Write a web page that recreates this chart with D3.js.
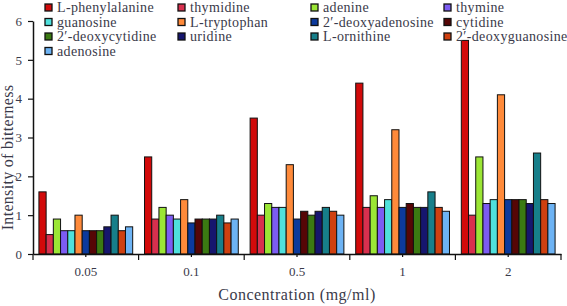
<!DOCTYPE html>
<html>
<head>
<meta charset="utf-8">
<script src="https://cdn.jsdelivr.net/npm/d3@7"></script>
<style>
  body { margin: 0; background: #fff; }
  svg, svg text { font-family: "Liberation Serif", "DejaVu Serif", serif; }
</style>
</head>
<body>
<div id="chart"></div>
<script>
// concentrations (x groups)
const concentrations = ["0.05", "0.1", "0.5", "1", "2"];

// compounds (series), in legend / bar order
const compounds = [
  "L-phenylalanine", "thymidine", "adenine", "thymine",
  "guanosine", "L-tryptophan", "2\u2032-deoxyadenosine", "cytidine",
  "2\u2032-deoxycytidine", "uridine", "L-ornithine", "2\u2032-deoxyguanosine",
  "adenosine"
];

const colors = [
  "#d20a0a", "#d8304e", "#9be635", "#7c5cf2",
  "#4fe0dc", "#ff8a3a", "#0c3a9c", "#560606",
  "#3b7a12", "#16166e", "#177f8a", "#cf4010",
  "#6db3f4"
];

// bitterness intensity per compound, one value per concentration
const lPhenylalanine    = [1.6, 2.5, 3.5, 4.4, 5.5];
const thymidine         = [0.5, 0.9, 1.0, 1.2, 1.0];
const adenine           = [0.9, 1.2, 1.3, 1.5, 2.5];
const thymine           = [0.6, 1.0, 1.2, 1.2, 1.3];
const guanosine         = [0.6, 0.9, 1.2, 1.4, 1.4];
const lTryptophan       = [1.0, 1.4, 2.3, 3.2, 4.1];
const deoxyadenosine    = [0.6, 0.8, 0.9, 1.2, 1.4];
const cytidine          = [0.6, 0.9, 1.1, 1.3, 1.4];
const deoxycytidine     = [0.6, 0.9, 1.0, 1.2, 1.4];
const uridine           = [0.7, 0.9, 1.1, 1.2, 1.3];
const lOrnithine        = [1.0, 1.0, 1.2, 1.6, 2.6];
const deoxyguanosine    = [0.6, 0.8, 1.1, 1.2, 1.4];
const adenosine         = [0.7, 0.9, 1.0, 1.1, 1.3];

const series = [
  lPhenylalanine, thymidine, adenine, thymine,
  guanosine, lTryptophan, deoxyadenosine, cytidine,
  deoxycytidine, uridine, lOrnithine, deoxyguanosine,
  adenosine
];

const yTicks = [0, 1, 2, 3, 4, 5, 6];

const W = 567, H = 306;
const margin = {top: 21, right: 6, bottom: 52, left: 33};
const width = W - margin.left - margin.right;
const height = H - margin.top - margin.bottom;
const textColor = "#3a3a4a";
const serif = "Liberation Serif, DejaVu Serif, serif";

const svg = d3.select("#chart")
  .append("svg")
  .attr("width", W)
  .attr("height", H);

const g = svg.append("g")
  .attr("transform", `translate(${margin.left}, ${margin.top})`);

// scales
const x0 = d3.scaleBand()
  .domain(concentrations)
  .range([0, width])
  .padding(0);

const x1 = d3.scaleBand()
  .domain(d3.range(compounds.length))
  .range([0, x0.bandwidth()])
  .paddingInner(0)
  .paddingOuter(0.82);

const y = d3.scaleLinear()
  .domain([0, 6])
  .range([height, 0]);

// bars
const groups = g.selectAll("g.group")
  .data(concentrations)
  .join("g")
  .attr("class", "group")
  .attr("transform", d => `translate(${x0(d)}, 0)`);

groups.selectAll("rect")
  .data((c, gi) => series.map((s, si) => ({si: si, value: s[gi]})))
  .join("rect")
  .attr("x", d => x1(d.si))
  .attr("y", d => y(d.value))
  .attr("width", x1.bandwidth())
  .attr("height", d => height - y(d.value))
  .attr("fill", d => colors[d.si])
  .attr("stroke", "#111")
  .attr("stroke-width", 1);

// y axis
const yAxis = g.append("g")
  .call(d3.axisLeft(y).tickValues(yTicks).tickFormat(d3.format("d"))
    .tickSize(5).tickSizeOuter(0).tickPadding(6));
yAxis.attr("font-family", serif);
yAxis.select(".domain").attr("stroke", "#111").attr("stroke-width", 1.5);
yAxis.selectAll(".tick line").attr("stroke", "#111").attr("stroke-width", 1.2);
yAxis.selectAll("text").style("font-size", "13px").attr("fill", textColor);

// x axis: boundary ticks + short centre ticks
const xAxis = g.append("g")
  .attr("transform", `translate(0, ${height})`)
  .call(d3.axisBottom(x0).tickSize(3).tickSizeOuter(0).tickPadding(10));
xAxis.attr("font-family", serif);
xAxis.select(".domain").attr("stroke", "#111").attr("stroke-width", 1.5);
xAxis.selectAll(".tick line").attr("stroke", "#111").attr("stroke-width", 1.2);
xAxis.selectAll("text").style("font-size", "13px").attr("fill", textColor);

xAxis.selectAll("line.bound")
  .data(d3.range(concentrations.length + 1))
  .join("line")
  .attr("class", "bound")
  .attr("x1", i => i * x0.step())
  .attr("x2", i => i * x0.step())
  .attr("y1", 0)
  .attr("y2", 6)
  .attr("stroke", "#111")
  .attr("stroke-width", 1.2);

// axis titles
svg.append("text")
  .attr("transform", `translate(13, ${margin.top + height / 2 + 20}) rotate(-90)`)
  .attr("text-anchor", "middle")
  .style("font-size", "16px")
  .style("letter-spacing", "0.3px")
  .attr("fill", textColor)
  .text("Intensity of bitterness");

svg.append("text")
  .attr("x", margin.left + width / 2)
  .attr("y", 300)
  .attr("text-anchor", "middle")
  .style("font-size", "16px")
  .style("letter-spacing", "0.5px")
  .attr("fill", textColor)
  .text("Concentration (mg/ml)");

// legend, 4 columns
const legend = svg.append("g");
const item = legend.selectAll("g")
  .data(compounds)
  .join("g")
  .attr("transform", (d, i) => `translate(${45 + (i % 4) * 133}, ${4 + Math.floor(i / 4) * 14.5})`);

item.append("rect")
  .attr("width", 7)
  .attr("height", 7)
  .attr("fill", (d, i) => colors[i])
  .attr("stroke", "#111")
  .attr("stroke-width", 1.3);

item.append("text")
  .attr("x", 12)
  .attr("y", 8)
  .style("font-size", "14px")
  .style("letter-spacing", "0.35px")
  .attr("fill", textColor)
  .text(d => d);
</script>
</body>
</html>
